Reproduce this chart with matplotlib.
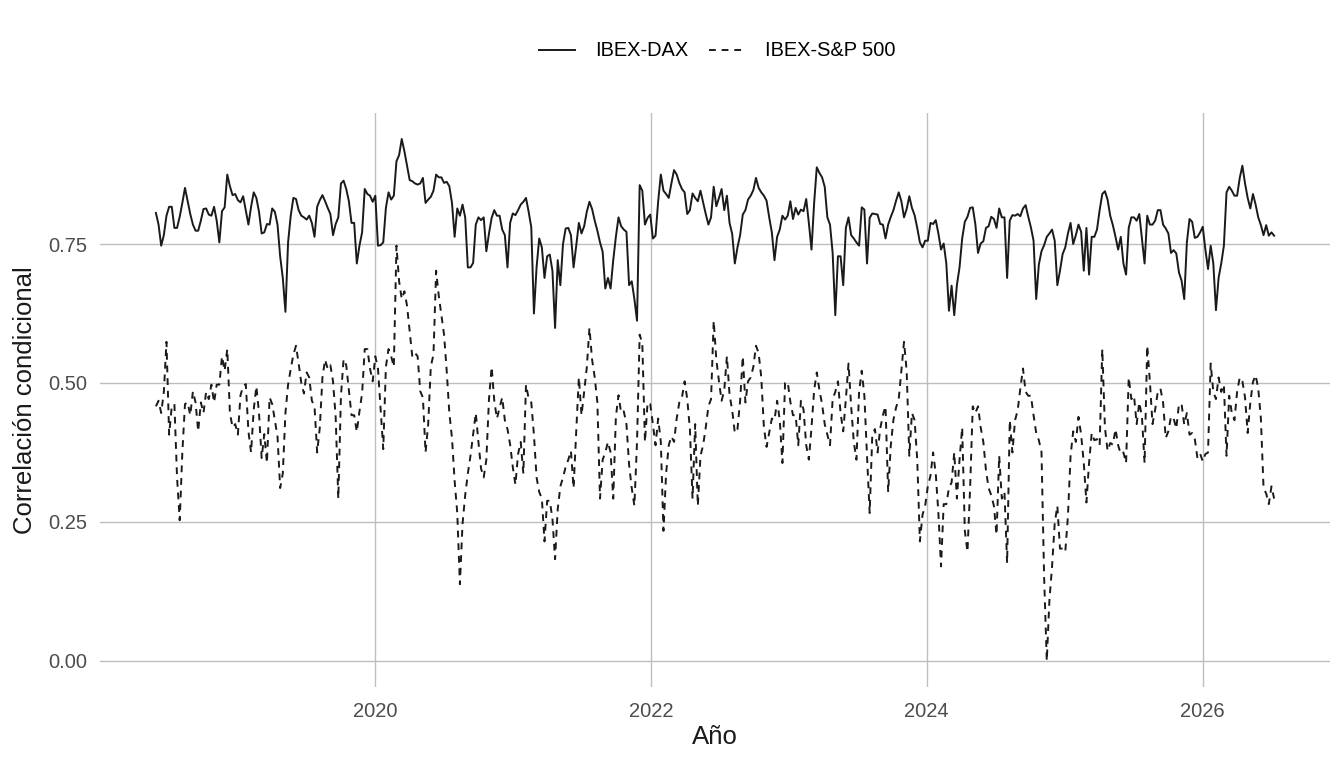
import matplotlib.pyplot as plt
import matplotlib.ticker as mticker
import pandas as pd

# Correlación condicional semanal
fecha_inicio = '2018-05-31'

ibex_dax = [
    0.806, 0.785, 0.747, 0.766, 0.801, 0.817, 0.817, 0.779, 0.779, 0.799,
    0.824, 0.851, 0.827, 0.804, 0.785, 0.774, 0.774, 0.792, 0.813, 0.814,
    0.803, 0.801, 0.817, 0.792, 0.753, 0.809, 0.816, 0.875, 0.854, 0.838,
    0.840, 0.829, 0.825, 0.836, 0.811, 0.785, 0.817, 0.843, 0.833, 0.808,
    0.769, 0.771, 0.786, 0.785, 0.814, 0.808, 0.785, 0.728, 0.689, 0.628,
    0.753, 0.801, 0.833, 0.831, 0.811, 0.801, 0.798, 0.794, 0.801, 0.788,
    0.763, 0.817, 0.829, 0.838, 0.827, 0.815,
    0.804, 0.766, 0.786, 0.798, 0.859, 0.864, 0.849, 0.827, 0.788, 0.788,
    0.715, 0.747, 0.771, 0.849, 0.840, 0.837, 0.826, 0.837, 0.747, 0.748,
    0.753, 0.815, 0.843, 0.830, 0.837, 0.899, 0.910, 0.939, 0.917, 0.891,
    0.865, 0.863, 0.859, 0.857, 0.859, 0.869, 0.824, 0.830, 0.835, 0.846,
    0.875, 0.870, 0.870, 0.860, 0.862, 0.854, 0.824, 0.763, 0.814, 0.801,
    0.821, 0.798, 0.708, 0.708, 0.716, 0.785, 0.798, 0.793, 0.798, 0.737,
    0.769, 0.797, 0.811, 0.801, 0.801, 0.776, 0.766, 0.708, 0.788, 0.805,
    0.802, 0.811,
    0.821, 0.826, 0.833, 0.808, 0.780, 0.625, 0.708, 0.760, 0.744, 0.689,
    0.728, 0.731, 0.702, 0.599, 0.721, 0.676, 0.750, 0.778, 0.779, 0.766,
    0.708, 0.747, 0.788, 0.769, 0.782, 0.808, 0.826, 0.813, 0.792, 0.774,
    0.753, 0.736, 0.670, 0.689, 0.670, 0.721, 0.763, 0.798, 0.782, 0.776,
    0.772, 0.676, 0.683, 0.651, 0.612, 0.856, 0.846, 0.785, 0.797, 0.803,
    0.760, 0.765, 0.827, 0.875, 0.846, 0.840, 0.833, 0.859, 0.883, 0.875,
    0.860, 0.849, 0.843, 0.804, 0.811, 0.841, 0.833, 0.827, 0.846, 0.825,
    0.804, 0.785,
    0.798, 0.853, 0.818, 0.833, 0.849, 0.811, 0.837, 0.788, 0.768, 0.715,
    0.744, 0.766, 0.803, 0.811, 0.830, 0.837, 0.847, 0.869, 0.851, 0.843,
    0.837, 0.828, 0.798, 0.771, 0.721, 0.763, 0.776, 0.801, 0.794, 0.801,
    0.827, 0.795, 0.815, 0.803, 0.812, 0.809, 0.831, 0.788, 0.740, 0.824,
    0.888, 0.878, 0.870, 0.853, 0.798, 0.785, 0.734, 0.622, 0.728, 0.728,
    0.676, 0.779, 0.798, 0.766, 0.760, 0.753, 0.747, 0.816, 0.812, 0.715,
    0.797, 0.805, 0.804, 0.803, 0.786, 0.785, 0.760, 0.785, 0.799, 0.811,
    0.828, 0.843,
    0.827, 0.798, 0.813, 0.836, 0.815, 0.802, 0.779, 0.753, 0.744, 0.756,
    0.756, 0.788, 0.786, 0.793, 0.769, 0.740, 0.751, 0.715, 0.630, 0.675,
    0.622, 0.676, 0.708, 0.760, 0.790, 0.799, 0.815, 0.816, 0.785, 0.734,
    0.751, 0.755, 0.779, 0.782, 0.799, 0.795, 0.779, 0.814, 0.798, 0.798,
    0.689, 0.792, 0.802, 0.801, 0.804, 0.800, 0.814, 0.820, 0.799, 0.780,
    0.756, 0.651, 0.713, 0.737, 0.748, 0.763, 0.769, 0.776, 0.756, 0.676,
    0.702, 0.732, 0.744, 0.769, 0.788, 0.750, 0.766, 0.785, 0.772, 0.702,
    0.779, 0.695,
    0.763, 0.763, 0.776, 0.811, 0.840, 0.845, 0.830, 0.801, 0.784, 0.763,
    0.740, 0.763, 0.715, 0.695, 0.779, 0.798, 0.798, 0.792, 0.804, 0.760,
    0.715, 0.801, 0.785, 0.785, 0.792, 0.811, 0.811, 0.785, 0.778, 0.769,
    0.734, 0.739, 0.733, 0.699, 0.684, 0.651, 0.753, 0.795, 0.790, 0.761,
    0.763, 0.771, 0.781, 0.740, 0.705, 0.747, 0.715, 0.631, 0.689, 0.715,
    0.747, 0.843, 0.853, 0.846, 0.837, 0.837, 0.869, 0.891, 0.859, 0.833,
    0.814, 0.840, 0.821, 0.798, 0.784, 0.766, 0.784, 0.765, 0.771, 0.765,
]

ibex_sp500 = [
    0.458, 0.468, 0.446, 0.484, 0.574, 0.407, 0.458, 0.462, 0.330, 0.253,
    0.375, 0.462, 0.465, 0.442, 0.485, 0.465, 0.413, 0.465, 0.446, 0.484,
    0.471, 0.497, 0.465, 0.497, 0.497, 0.548, 0.522, 0.561, 0.446, 0.420,
    0.426, 0.407, 0.478, 0.494, 0.498, 0.413, 0.375, 0.452, 0.494, 0.446,
    0.365, 0.408, 0.356, 0.474, 0.462, 0.433, 0.404, 0.311, 0.337, 0.446,
    0.497, 0.525, 0.551, 0.567, 0.535, 0.500, 0.481, 0.519, 0.510, 0.468,
    0.458, 0.375, 0.420, 0.510, 0.542, 0.525,
    0.532, 0.503, 0.439, 0.292, 0.477, 0.543, 0.532, 0.487, 0.442, 0.442,
    0.412, 0.449, 0.481, 0.561, 0.561, 0.526, 0.503, 0.548, 0.526, 0.452,
    0.381, 0.529, 0.561, 0.548, 0.529, 0.747, 0.683, 0.651, 0.665, 0.639,
    0.593, 0.547, 0.554, 0.548, 0.485, 0.474, 0.375, 0.426, 0.530, 0.551,
    0.702, 0.657, 0.622, 0.587, 0.522, 0.446, 0.401, 0.324, 0.266, 0.138,
    0.247, 0.298, 0.337, 0.369, 0.407, 0.446, 0.394, 0.346, 0.330, 0.362,
    0.471, 0.529, 0.468, 0.436, 0.455, 0.474, 0.433, 0.417, 0.389, 0.349,
    0.317, 0.372,
    0.394, 0.337, 0.497, 0.472, 0.465, 0.407, 0.330, 0.304, 0.292, 0.215,
    0.288, 0.288, 0.256, 0.183, 0.273, 0.314, 0.330, 0.349, 0.362, 0.378,
    0.311, 0.413, 0.510, 0.442, 0.484, 0.528, 0.599, 0.542, 0.510, 0.465,
    0.292, 0.362, 0.375, 0.394, 0.375, 0.292, 0.439, 0.478, 0.446, 0.449,
    0.426, 0.353, 0.311, 0.279, 0.394, 0.587, 0.571, 0.394, 0.465, 0.462,
    0.426, 0.388, 0.436, 0.394, 0.234, 0.337, 0.388, 0.404, 0.394, 0.436,
    0.465, 0.474, 0.503, 0.471, 0.417, 0.292, 0.426, 0.279, 0.369, 0.388,
    0.420, 0.458,
    0.471, 0.612, 0.542, 0.503, 0.468, 0.487, 0.548, 0.479, 0.451, 0.410,
    0.417, 0.468, 0.548, 0.465, 0.503, 0.510, 0.529, 0.567, 0.554, 0.510,
    0.420, 0.385, 0.410, 0.436, 0.433, 0.468, 0.433, 0.356, 0.500, 0.502,
    0.466, 0.442, 0.442, 0.388, 0.468, 0.452, 0.388, 0.362, 0.420, 0.487,
    0.519, 0.487, 0.462, 0.426, 0.407, 0.388, 0.471, 0.484, 0.503, 0.446,
    0.413, 0.471, 0.535, 0.458, 0.394, 0.362, 0.484, 0.522, 0.477, 0.369,
    0.266, 0.407, 0.417, 0.375, 0.418, 0.442, 0.458, 0.304, 0.388, 0.434,
    0.456, 0.471,
    0.522, 0.574, 0.522, 0.369, 0.446, 0.433, 0.362, 0.215, 0.263, 0.279,
    0.314, 0.333, 0.375, 0.337, 0.266, 0.170, 0.282, 0.282, 0.311, 0.321,
    0.375, 0.292, 0.362, 0.420, 0.234, 0.196, 0.311, 0.458, 0.446, 0.458,
    0.420, 0.394, 0.343, 0.311, 0.298, 0.279, 0.227, 0.369, 0.292, 0.304,
    0.176, 0.433, 0.375, 0.433, 0.451, 0.490, 0.526, 0.484, 0.477, 0.477,
    0.442, 0.410, 0.397, 0.376, 0.150, 0.000, 0.109, 0.170, 0.247, 0.279,
    0.202, 0.202, 0.196, 0.260, 0.369, 0.413, 0.394, 0.439, 0.407, 0.356,
    0.285, 0.356,
    0.410, 0.397, 0.399, 0.388, 0.561, 0.420, 0.378, 0.392, 0.389, 0.417,
    0.388, 0.372, 0.375, 0.356, 0.510, 0.471, 0.477, 0.426, 0.465, 0.439,
    0.356, 0.567, 0.503, 0.426, 0.452, 0.484, 0.490, 0.465, 0.401, 0.413,
    0.440, 0.436, 0.418, 0.462, 0.462, 0.425, 0.446, 0.407, 0.410, 0.399,
    0.365, 0.373, 0.359, 0.372, 0.375, 0.535, 0.484, 0.471, 0.510, 0.484,
    0.497, 0.369, 0.477, 0.446, 0.433, 0.484, 0.510, 0.503, 0.474, 0.410,
    0.465, 0.502, 0.514, 0.490, 0.436, 0.311, 0.301, 0.282, 0.314, 0.292,
]

anios_marca = [2020, 2022, 2024, 2026]
marcas_y = [0.0, 0.25, 0.50, 0.75]

fechas = pd.date_range(fecha_inicio, periods=len(ibex_dax), freq='7D')

plt.rcParams['font.family'] = ['Liberation Sans', 'DejaVu Sans']

fig, ax = plt.subplots(figsize=(13.44, 7.68), dpi=100)
fig.subplots_adjust(left=0.0744, right=0.9896, bottom=0.1055, top=0.853)

ax.plot(fechas, ibex_dax, color='#1a1a1a', lw=1.4, label='IBEX-DAX')
ax.plot(fechas, ibex_sp500, color='#1a1a1a', lw=1.4, ls=(0, (3.5, 3)),
        label='IBEX-S&P 500')

ax.set_xticks([pd.Timestamp(f'{a}-01-01') for a in anios_marca])
ax.set_xticklabels([str(a) for a in anios_marca])
ax.set_yticks(marcas_y)
ax.yaxis.set_major_formatter(mticker.FormatStrFormatter('%.2f'))

ax.grid(True, color='#BEBEBE', lw=1.0)
ax.set_axisbelow(True)
for s in ax.spines.values():
    s.set_visible(False)
ax.tick_params(axis='both', length=0, labelsize=14.5, colors='#4D4D4D')
ax.tick_params(axis='x', pad=10.5)
ax.tick_params(axis='y', pad=9)

ax.set_xlabel('Año', fontsize=18.5, color='#1a1a1a', va='center')
ax.xaxis.set_label_coords(0.5, -0.088)
ax.set_ylabel('Correlación condicional', fontsize=18.5, color='#1a1a1a', va='center')
ax.yaxis.set_label_coords(-0.061, 0.5)

fig.legend(loc='center', bbox_to_anchor=(0.5335, 1 - 51 / 768), ncol=2,
           frameon=False, fontsize=14.4, handlelength=1.8,
           handletextpad=1.0, columnspacing=1.05)

fig.savefig('out.png', dpi=100)
